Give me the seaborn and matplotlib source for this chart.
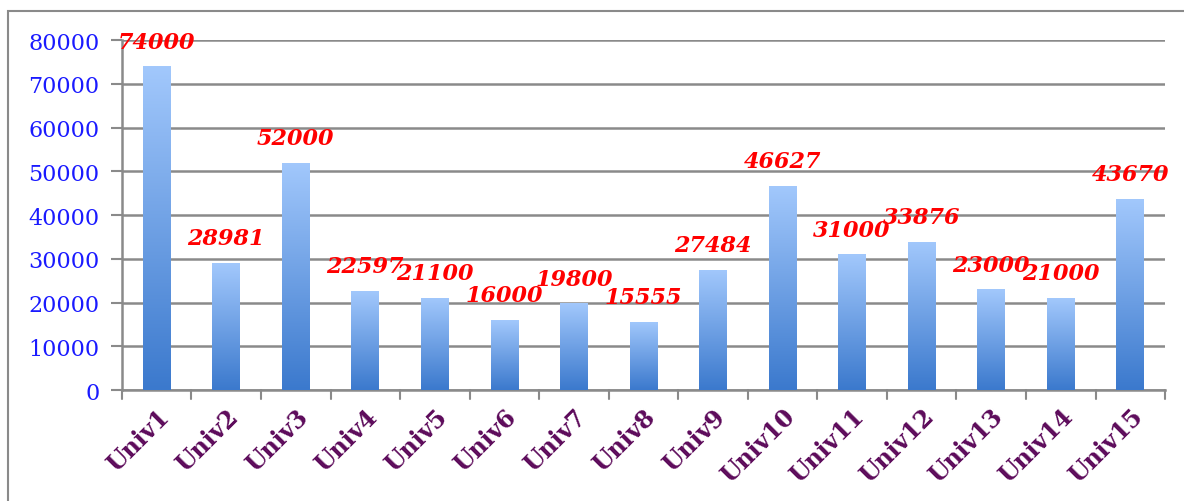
import matplotlib
matplotlib.use('Agg')
import numpy as np
import pandas as pd
import seaborn as sns
import matplotlib.pyplot as plt
from matplotlib.colors import LinearSegmentedColormap
from matplotlib.patches import Rectangle

universities = ["Univ1", "Univ2", "Univ3", "Univ4", "Univ5", "Univ6", "Univ7", "Univ8",
                "Univ9", "Univ10", "Univ11", "Univ12", "Univ13", "Univ14", "Univ15"]
values = [74000, 28981, 52000, 22597, 21100, 16000, 19800, 15555,
          27484, 46627, 31000, 33876, 23000, 21000, 43670]
y_ticks = [0, 10000, 20000, 30000, 40000, 50000, 60000, 70000, 80000]

df = pd.DataFrame({"univ": universities, "value": values})

sns.set_style("white")
plt.rcParams['font.family'] = ['DejaVu Serif']

fig = plt.figure(figsize=(11.84, 5.02), dpi=100)
ax = fig.add_axes([0.103, 0.221, 0.881, 0.697])

sns.barplot(data=df, x="univ", y="value", color="#5b93e0", width=0.4, ax=ax, zorder=3)

# gradient fill, light at top to darker blue at bottom
cmap = LinearSegmentedColormap.from_list("bluegrad", ["#3b79cd", "#a2c8fc"])
grad = np.linspace(0, 1, 256).reshape(-1, 1)
for bar in ax.patches:
    x0, w, h = bar.get_x(), bar.get_width(), bar.get_height()
    im = ax.imshow(grad, cmap=cmap, aspect="auto", origin="lower",
                   extent=[x0, x0 + w, 0, h], zorder=3)
    im.set_clip_path(bar)
    bar.set_alpha(0)

ax.set_xlim(-0.5, len(universities) - 0.5)
ax.set_ylim(0, 80000)
ax.set_yticks(y_ticks)
ax.set_yticklabels([str(t) for t in y_ticks], color="#1a1aff", fontsize=16)
ax.yaxis.grid(True, color="#8a8a8a", linewidth=1.8, zorder=0)
ax.set_axisbelow(True)

ax.set_xticks(np.arange(len(universities)))
ax.set_xticklabels(universities, rotation=45, ha="right", rotation_mode="anchor",
                   color="#5c0a5a", fontsize=17, fontweight="bold")
ax.tick_params(axis="x", length=0, pad=10)
ax.tick_params(axis="y", length=8, width=1.5, color="#8a8a8a", left=True, pad=8)
# boundary ticks between categories
for xb in np.arange(-0.5, len(universities), 1.0):
    ax.plot([xb, xb], [0, -0.025], transform=ax.get_xaxis_transform(), clip_on=False,
            color="#8a8a8a", linewidth=1.5)

ax.set_xlabel("")
ax.set_ylabel("")
for side in ["top", "right"]:
    ax.spines[side].set_visible(False)
for side in ["left", "bottom"]:
    ax.spines[side].set_color("#8a8a8a")
    ax.spines[side].set_linewidth(1.8)

for i, v in enumerate(values):
    ax.annotate(str(v), (i, v), xytext=(0, 10), textcoords="offset points",
                ha="center", va="bottom", color="#ff0000", fontsize=16,
                fontweight="bold", fontstyle="italic", clip_on=False, zorder=5)

# outer frame
fig.patches.append(Rectangle((8 / 1184, -0.1), 1.2, 0.1 + 1 - 12 / 502,
                             transform=fig.transFigure, fill=False,
                             edgecolor="#8a8a8a", linewidth=1.5))

fig.savefig("out.png", dpi=100, facecolor="white")
plt.close()
